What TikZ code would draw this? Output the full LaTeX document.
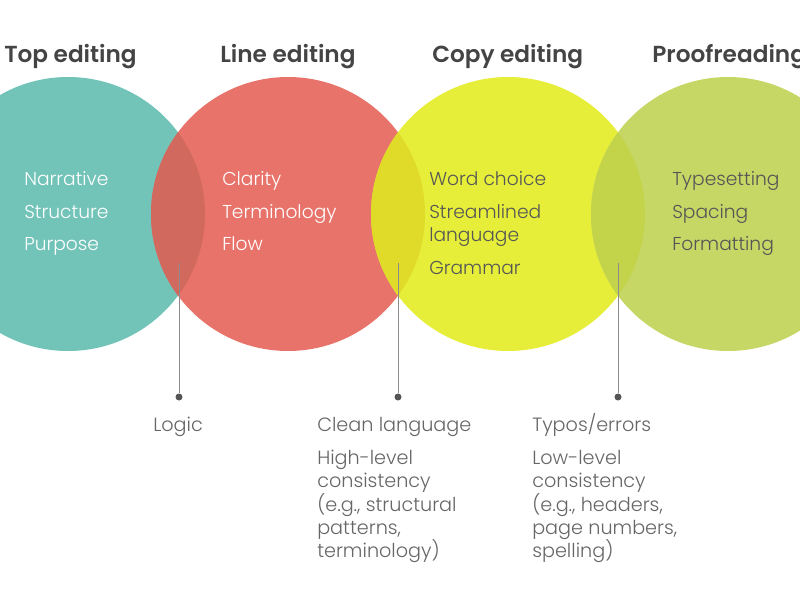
\documentclass[tikz,border=0pt]{standalone}
\usepackage{fontspec}
\setmainfont{Poppins Light}
\newfontfamily\kheadfont{Poppins SemiBold}
\definecolor{kteal}{HTML}{72C3B8}
\definecolor{kred}{HTML}{E8736A}
\definecolor{kyel}{HTML}{E6EE3A}
\definecolor{kgrn}{HTML}{C6D766}
\definecolor{kovA}{HTML}{D1695E}
\definecolor{kovB}{HTML}{E0DA28}
\definecolor{kovC}{HTML}{C3D44B}
\definecolor{khd}{HTML}{444444}
\definecolor{kin}{HTML}{555555}
\definecolor{knt}{HTML}{666666}
\begin{document}
\begin{tikzpicture}[x=0.75pt,y=-0.75pt,
  khead/.style={anchor=base west,inner sep=0pt,font=\kheadfont\fontsize{17.4}{22}\selectfont,text=khd},
  kitem/.style={anchor=base west,inner sep=0pt,font=\fontsize{14}{18}\selectfont},
  knote/.style={anchor=base west,inner sep=0pt,font=\fontsize{14.4}{17}\selectfont,text=knt},
  kdot/.style={circle,fill=kin,inner sep=0pt,minimum size=5.25pt},
  kline/.style={draw=gray!90,line width=0.75pt}]
\useasboundingbox(0,0)rectangle(800,600);
\pgfmathsetmacro{\kr}{137}
\pgfmathsetmacro{\ky}{214}
% circles and their overlaps
\foreach \kx/\kcol in {68/kteal,288/kred,508/kyel,728/kgrn}{\fill[\kcol](\kx,\ky)circle[radius=\kr];}
\foreach \ka/\kb/\kcol in {68/288/kovA,288/508/kovB,508/728/kovC}{\begin{scope}\clip(\ka,\ky)circle[radius=\kr];\fill[\kcol](\kb,\ky)circle[radius=\kr];\end{scope}}
% titles
\foreach \kc/\kx/\kt in {1/4/Top editing,2/220/Line editing,3/432/Copy editing,4/652/Proofreading}{\node[khead](h\kc)at(\kx,62){\kt};}
% items in the circles
\foreach \kc/\kx/\kcol/\klist in {1/24/white/{185/Narrative,218/Structure,250/Purpose},2/222/white/{185/Clarity,218/Terminology,250/Flow},3/429/kin/{185/Word choice,218/Streamlined,241/language,274/Grammar},4/672/kin/{185/Typesetting,218/Spacing,250/Formatting}}{
  \foreach \kb/\kt [count=\kn] in \klist{\node[kitem,text=\kcol](i\kc-\kn)at(\kx,\kb){\kt};}}
% pointers
\foreach \kc/\kx in {1/179,2/398,3/618}{\coordinate(l\kc)at(\kx,263);\node[kdot](d\kc)at(\kx,397){};\draw[kline](l\kc)--(d\kc);}
% notes below
\foreach \kc/\kx/\klist in {1/153/{431/Logic},2/317/{431/Clean language,464/High-level,487/consistency,511/{(e.g., structural},534/{patterns,},557/terminology)},3/532/{431/{Typos/errors},464/Low-level,487/consistency,511/{(e.g., headers,},534/{page numbers,},557/spelling)}}{
  \foreach \kb/\kt [count=\kn] in \klist{\node[knote](n\kc-\kn)at(\kx,\kb){\kt};}}
\end{tikzpicture}
\end{document}
